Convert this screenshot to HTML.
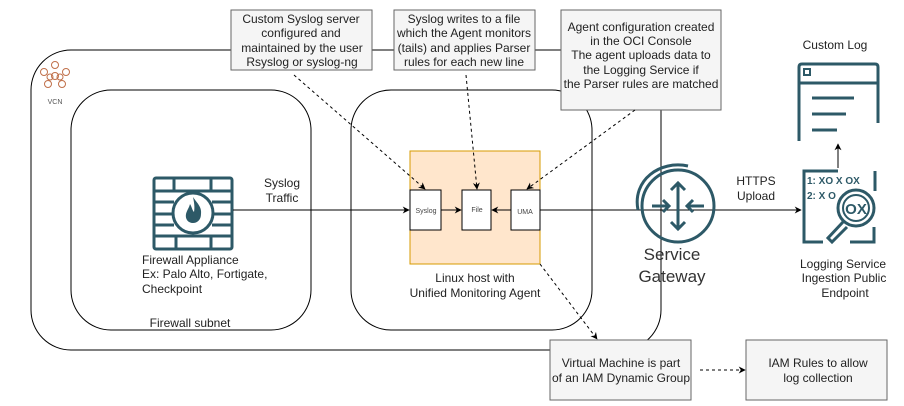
<!DOCTYPE html>
<html><head><meta charset="utf-8"><style>
html,body{margin:0;padding:0;background:#fff;}
svg{display:block;font-family:"Liberation Sans",Arial,sans-serif;}
</style></head><body>
<svg width="904" height="406" viewBox="0 0 904 406" xmlns="http://www.w3.org/2000/svg">
<defs>
<marker id="a" viewBox="0 0 10 10" refX="9" refY="5" markerWidth="7" markerHeight="7" orient="auto"><path d="M0,0 L10,5 L0,10 L3,5z" fill="#000"/></marker>
</defs>
<rect x="31" y="50" width="630" height="300" rx="40" fill="none" stroke="#000" stroke-width="1"/>
<g fill="none" stroke="#c0704a" stroke-width="1">
<circle cx="55" cy="65" r="3.5"/><circle cx="44" cy="72" r="3.5"/><circle cx="66" cy="72" r="3.5"/>
<circle cx="48" cy="84" r="3.5"/><circle cx="62" cy="84" r="3.5"/><circle cx="55" cy="76" r="3.5"/>
<circle cx="50" cy="77" r="3"/><circle cx="60" cy="77" r="3"/>
</g>
<text x="55" y="104" font-size="7" fill="#555" text-anchor="middle">VCN</text>
<rect x="71" y="90" width="240" height="240" rx="40" fill="none" stroke="#000"/>
<rect x="351" y="90" width="241" height="240" rx="40" fill="none" stroke="#000"/>
<text x="190" y="327" font-size="12" fill="#222" text-anchor="middle">Firewall subnet</text>
<rect x="410" y="151" width="130" height="113" fill="#ffe6cc" stroke="#d79b00"/>
<rect x="410" y="190" width="31" height="40" fill="#fff" stroke="#000"/>
<rect x="462" y="190" width="29" height="40" fill="#fff" stroke="#000"/>
<rect x="511" y="190" width="29" height="40" fill="#fff" stroke="#000"/>
<text x="426" y="213" font-size="7" fill="#444" text-anchor="middle">Syslog</text>
<text x="477" y="212" font-size="7" fill="#444" text-anchor="middle">File</text>
<text x="525" y="214" font-size="7" fill="#444" text-anchor="middle">UMA</text>
<text x="475" y="282" font-size="12" fill="#222" text-anchor="middle">Linux host with</text>
<text x="475" y="297" font-size="12" fill="#222" text-anchor="middle">Unified Monitoring Agent</text>
<g fill="none" stroke="#2d5967" stroke-width="3">
<rect x="154" y="178" width="78" height="71" rx="2"/>
<path d="M154,191h78M154,236h78M154,202h20M212,202h20M154,214h18M214,214h18M154,225h20M212,225h20M174,178v13M211,178v13M176,236v13M211,236v13"/>
<circle cx="193" cy="213" r="20" fill="#fff"/>
</g>
<path d="M193,197 c4,6 9,10 8,17 c0,6 -4,9 -8,9 c-5,0 -8,-4 -7,-9 c1,-4 3,-6 4,-10 c2,3 2,6 4,8 c1,-5 0,-10 -1,-15z" fill="#2d5967"/>
<text x="142" y="264" font-size="12" fill="#222">Firewall Appliance</text>
<text x="142" y="278" font-size="12" fill="#222">Ex: Palo Alto, Fortigate,</text>
<text x="142" y="293" font-size="12" fill="#222">Checkpoint</text>
<text x="282" y="187" font-size="12" fill="#222" text-anchor="middle">Syslog</text>
<text x="282" y="202" font-size="12" fill="#222" text-anchor="middle">Traffic</text>
<line x1="233" y1="210" x2="409" y2="210" stroke="#000" marker-end="url(#a)"/>
<line x1="441" y1="210" x2="461" y2="210" stroke="#000" marker-end="url(#a)"/>
<line x1="511" y1="210" x2="492" y2="210" stroke="#000" marker-end="url(#a)"/>
<line x1="540" y1="210" x2="801" y2="210" stroke="#000" marker-end="url(#a)"/>
<text x="756" y="185" font-size="12" fill="#222" text-anchor="middle">HTTPS</text>
<text x="756" y="200" font-size="12" fill="#222" text-anchor="middle">Upload</text>
<g fill="none" stroke="#2d5967" stroke-width="3">
<circle cx="678" cy="206" r="36"/>
<path d="M638,210 C632,180 660,160 688,166"/>
<path d="M652,206h16M688,206h16M678,183v46M671,190l7,-7l7,7M671,222l7,7l7,-7M663,200l6,6l-6,6M693,200l-6,6l6,6"/>
</g>
<text x="672" y="260" font-size="17" fill="#333" text-anchor="middle">Service</text>
<text x="672" y="282" font-size="17" fill="#333" text-anchor="middle">Gateway</text>
<text x="835" y="49" font-size="12" fill="#222" text-anchor="middle">Custom Log</text>
<g fill="none" stroke="#2d5967" stroke-width="3">
<path d="M799,141V67q0,-3 3,-3h73q3,0 3,3v56M799,83h79M812,98h42M812,114h34M812,130h25"/>
<rect x="804" y="69" width="6" height="6" stroke-width="2"/>
</g>
<line x1="838" y1="168" x2="838" y2="144" stroke="#000" marker-end="url(#a)"/>
<g fill="none" stroke="#2d5967" stroke-width="3">
<path d="M838,171h-34v71h19M850,242h24v-15M875,171v20"/>
</g>
<text x="807" y="184" font-size="10" font-weight="bold" fill="#2d5967">1: XO X OX</text>
<text x="807" y="199" font-size="10" font-weight="bold" fill="#2d5967">2: X O</text>
<g fill="#fff" stroke="#2d5967" stroke-width="3">
<path d="M843,222l-15,16l4,4l15,-15"/>
<circle cx="856" cy="208" r="18"/><circle cx="856" cy="208" r="13" stroke-width="2"/>
</g>
<text x="856" y="214" font-size="15" font-weight="bold" fill="#2d5967" text-anchor="middle">OX</text>
<text x="843" y="268" font-size="12" fill="#222" text-anchor="middle">Logging Service</text>
<text x="844" y="282" font-size="12" fill="#222" text-anchor="middle">Ingestion Public</text>
<text x="845" y="297" font-size="12" fill="#222" text-anchor="middle">Endpoint</text>
<g fill="#f5f5f5" stroke="#666">
<rect x="231" y="10" width="141" height="60"/>
<rect x="394" y="10" width="141" height="60"/>
<rect x="561" y="10" width="160" height="100"/>
<rect x="550" y="340" width="141" height="60"/>
<rect x="746" y="340" width="141" height="60"/>
</g>
<g font-size="12" fill="#222" text-anchor="middle">
<text x="301" y="23">Custom Syslog server</text><text x="301" y="37">configured and</text><text x="302" y="52">maintained by the user</text><text x="302" y="66">Rsyslog or syslog-ng</text>
<text x="464" y="23">Syslog writes to a file</text><text x="464" y="37">which the Agent monitors</text><text x="464" y="52">(tails) and applies Parser</text><text x="464" y="66">rules for each new line</text>
<text x="641" y="31">Agent configuration created</text><text x="641" y="45">in the OCI Console</text><text x="641" y="59">The agent uploads data to</text><text x="641" y="74">the Logging Service if</text><text x="641" y="88">the Parser rules are matched</text>
<text x="621" y="367">Virtual Machine is part</text><text x="621" y="382">of an IAM Dynamic Group</text>
<text x="818" y="367">IAM Rules to allow</text><text x="818" y="382">log collection</text>
</g>
<g stroke="#000" stroke-dasharray="3,3" fill="none">
<line x1="294" y1="75" x2="425" y2="189" marker-end="url(#a)"/>
<line x1="466" y1="75" x2="477" y2="189" marker-end="url(#a)"/>
<line x1="635" y1="110" x2="527" y2="189" marker-end="url(#a)"/>
<line x1="540" y1="264" x2="597" y2="339" marker-end="url(#a)"/>
<line x1="700" y1="370" x2="745" y2="370" marker-end="url(#a)"/>
</g>
</svg>
</body></html>
